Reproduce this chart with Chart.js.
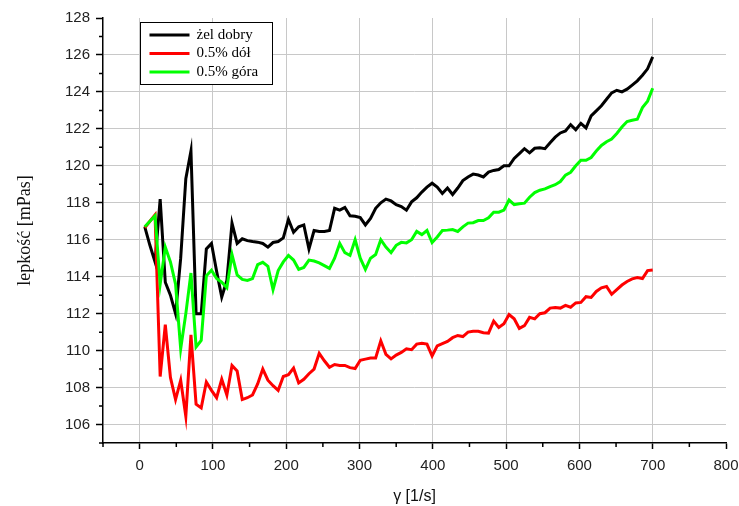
<!DOCTYPE html>
<html>
<head>
<meta charset="utf-8">
<script src="https://cdn.jsdelivr.net/npm/chart.js@4.4.1/dist/chart.umd.min.js"></script>
<style>
  html, body { margin: 0; padding: 0; background: #fff; }
  #wrap { width: 739px; height: 506px; }
</style>
</head>
<body>
<div id="wrap"><canvas id="viscosity" width="739" height="506"></canvas></div>
<script>
// shear rate gamma [1/s]
const shearRates = [7, 14, 21, 28, 35, 42, 49, 56, 63, 70, 77, 84, 91, 98, 105, 112, 119, 126, 133, 140,
  147, 154, 161, 168, 175, 182, 189, 196, 203, 210, 217, 224, 231, 238, 245, 252, 259, 266, 273, 280,
  287, 294, 301, 308, 315, 322, 329, 336, 343, 350, 357, 364, 371, 378, 385, 392, 399, 406, 413, 420,
  427, 434, 441, 448, 455, 462, 469, 476, 483, 490, 497, 504, 511, 518, 525, 532, 539, 546, 553, 560,
  567, 574, 581, 588, 595, 602, 609, 616, 623, 630, 637, 644, 651, 658, 665, 672, 679, 686, 693, 700];

// viscosity [mPas]
const zelDobry = [116.7, 115.7, 114.8, 118.2, 113.7, 113.0, 112.0, 115.0, 119.3, 120.8,
  112.0, 112.0, 115.5, 115.8, 114.3, 112.9, 113.8, 116.9, 115.8, 116.05,
  115.95, 115.9, 115.87, 115.8, 115.6, 115.85, 115.9, 116.1, 117.1, 116.4,
  116.7, 116.8, 115.5, 116.5, 116.45, 116.45, 116.5, 117.7, 117.6, 117.75,
  117.3, 117.27, 117.2, 116.8, 117.15, 117.7, 118.0, 118.2, 118.1, 117.9,
  117.8, 117.6, 118.05, 118.27, 118.58, 118.85, 119.06, 118.85, 118.5, 118.8,
  118.45, 118.8, 119.2, 119.4, 119.55, 119.5, 119.4, 119.66, 119.75, 119.8,
  120.0, 120.0, 120.4, 120.66, 120.93, 120.7, 120.95, 120.98, 120.93, 121.25,
  121.55, 121.78, 121.89, 122.23, 121.95, 122.3, 122.05, 122.7, 122.97, 123.25,
  123.6, 123.95, 124.09, 124.0, 124.15, 124.37, 124.6, 124.9, 125.25, 125.9];

const dol = [116.65, 117.0, 117.35, 108.6, 111.4, 108.55, 107.35, 108.4, 106.45, 110.85,
  107.1, 106.9, 108.3, 107.85, 107.45, 108.45, 107.6, 109.2, 108.9, 107.35,
  107.45, 107.6, 108.2, 109.0, 108.4, 108.1, 107.85, 108.6, 108.7, 109.05,
  108.25, 108.45, 108.75, 109.0, 109.85, 109.45, 109.1, 109.25, 109.2, 109.2,
  109.08, 109.03, 109.48, 109.54, 109.6, 109.6, 110.53, 109.8, 109.55, 109.76,
  109.9, 110.1, 110.05, 110.35, 110.4, 110.35, 109.71, 110.26, 110.38, 110.5,
  110.7, 110.82, 110.76, 111.0, 111.05, 111.05, 110.97, 110.95, 111.6, 111.25,
  111.45, 111.95, 111.72, 111.2, 111.35, 111.8, 111.72, 112.0, 112.05, 112.3,
  112.33, 112.3, 112.45, 112.35, 112.58, 112.61, 112.92, 112.88, 113.2, 113.4,
  113.47, 113.05, 113.3, 113.55, 113.74, 113.88, 113.95, 113.9, 114.33, 114.36];

const gora = [116.7, 117.0, 117.3, 113.6, 115.6, 114.8, 113.6, 110.1, 112.0, 114.2,
  110.2, 110.55, 114.05, 114.35, 113.9, 113.7, 113.4, 115.2, 114.1, 113.85,
  113.8, 113.9, 114.65, 114.78, 114.56, 113.3, 114.33, 114.8, 115.15, 114.9,
  114.4, 114.5, 114.9, 114.85, 114.75, 114.6, 114.45, 115.0, 115.8, 115.3,
  115.15, 116.0, 115.0, 114.4, 115.0, 115.2, 116.0, 115.6, 115.3, 115.7,
  115.86, 115.83, 116.0, 116.45, 116.28, 116.5, 115.85, 116.15, 116.5, 116.52,
  116.55, 116.45, 116.7, 116.9, 116.92, 117.04, 117.04, 117.19, 117.49, 117.49,
  117.6, 118.15, 117.9, 117.95, 117.98, 118.3, 118.55, 118.68, 118.75, 118.88,
  118.98, 119.15, 119.5, 119.65, 120.0, 120.3, 120.3, 120.45, 120.8, 121.1,
  121.3, 121.45, 121.75, 122.1, 122.4, 122.47, 122.52, 123.15, 123.5, 124.2];

const seriesLabels = ["żel dobry", "0.5% dół", "0.5% góra"];
const seriesColors = ["#000000", "#ff0000", "#00ff00"];

const xTickValues = [0, 100, 200, 300, 400, 500, 600, 700, 800];
const xMinorTicks = [-50, 50, 150, 250, 350, 450, 550, 650, 750];
const yTickValues = [106, 108, 110, 112, 114, 116, 118, 120, 122, 124, 126, 128];
const yMinorTicks = [105, 107, 109, 111, 113, 115, 117, 119, 121, 123, 125, 127];

const gridGray = "#c8c8c8";

function toPoints(values) {
    return shearRates.map((x, i) => ({ x: x, y: values[i] }));
}

// small ticks between the labelled ones
const minorTicks = {
    id: "minorTicks",
    afterDraw(chart) {
        const ctx = chart.ctx;
        const x = chart.scales.x;
        const y = chart.scales.y;
        ctx.save();
        ctx.strokeStyle = "#000";
        ctx.lineWidth = 1.5;
        ctx.beginPath();
        for (const v of xMinorTicks) {
            const px = x.getPixelForValue(v);
            ctx.moveTo(px, x.top);
            ctx.lineTo(px, x.top + 4);
        }
        for (const v of yMinorTicks) {
            const py = y.getPixelForValue(v);
            ctx.moveTo(y.right - 4, py);
            ctx.lineTo(y.right, py);
        }
        ctx.stroke();
        ctx.restore();
    }
};

// boxed legend inside the plot, top left
const innerLegend = {
    id: "innerLegend",
    afterDraw(chart) {
        const ctx = chart.ctx;
        const area = chart.chartArea;
        const bx = Math.round(area.left + 37) + 0.5;
        const by = Math.round(area.top + 4) + 0.5;
        ctx.save();
        ctx.fillStyle = "#fff";
        ctx.fillRect(bx, by, 132, 62);
        ctx.strokeStyle = "#000";
        ctx.lineWidth = 1;
        ctx.strokeRect(bx, by, 132, 62);
        ctx.font = "15px 'Liberation Serif', 'Times New Roman', serif";
        ctx.textBaseline = "middle";
        seriesLabels.forEach((label, i) => {
            const ry = by + 12.5 + i * 18.5;
            ctx.strokeStyle = seriesColors[i];
            ctx.lineWidth = 3;
            ctx.beginPath();
            ctx.moveTo(bx + 9, ry);
            ctx.lineTo(bx + 49, ry);
            ctx.stroke();
            ctx.fillStyle = "#000";
            ctx.fillText(label, bx + 56, ry);
        });
        ctx.restore();
    }
};

const ctx = document.getElementById("viscosity");

new Chart(ctx, {
    type: "line",
    data: {
        datasets: [{
            label: seriesLabels[0],
            data: toPoints(zelDobry),
            borderColor: seriesColors[0],
            order: 3,
        }, {
            label: seriesLabels[1],
            data: toPoints(dol),
            borderColor: seriesColors[1],
            order: 2,
        }, {
            label: seriesLabels[2],
            data: toPoints(gora),
            borderColor: seriesColors[2],
            order: 1,
        }],
    },
    options: {
        responsive: false,
        animation: false,
        layout: { padding: { top: 18, right: 13, left: 0, bottom: 0 } },
        elements: {
            point: { radius: 0 },
            line: { borderWidth: 3, tension: 0, fill: false },
        },
        plugins: {
            legend: { display: false },
            tooltip: { enabled: false },
        },
        scales: {
            x: {
                type: "linear",
                min: -50,
                max: 800,
                afterBuildTicks: s => { s.ticks = xTickValues.map(v => ({ value: v })); },
                afterFit: s => { s.height = 63; s.paddingLeft = 0; s.paddingRight = 0; },
                grid: {
                    color: c => (c.tick && c.tick.value === 800) ? "rgba(0,0,0,0)" : gridGray,
                    lineWidth: 1,
                    tickColor: "#000",
                    tickLength: 6,
                    tickWidth: 1.5,
                },
                border: { color: "#000", width: 1.5 },
                ticks: {
                    color: "#222",
                    font: { family: "'Liberation Sans', Arial, sans-serif", size: 15 },
                    padding: 8,
                    maxRotation: 0,
                },
                title: {
                    display: true,
                    text: "γ [1/s]",
                    color: "#111",
                    font: { family: "'Liberation Sans', Arial, sans-serif", size: 16 },
                    padding: { top: 0, bottom: 0 },
                },
            },
            y: {
                type: "linear",
                min: 105,
                max: 128,
                afterBuildTicks: s => { s.ticks = yTickValues.map(v => ({ value: v })); },
                afterFit: s => { s.width = 103; s.paddingTop = 0; s.paddingBottom = 0; },
                grid: {
                    color: c => (c.tick && c.tick.value === 128) ? "rgba(0,0,0,0)" : gridGray,
                    lineWidth: 1,
                    tickColor: "#000",
                    tickLength: 7,
                    tickWidth: 1.5,
                },
                border: { color: "#000", width: 1.5 },
                ticks: {
                    color: "#222",
                    font: { family: "'Liberation Sans', Arial, sans-serif", size: 15 },
                    padding: 6,
                },
                title: {
                    display: true,
                    text: "lepkość [mPas]",
                    color: "#111",
                    font: { family: "'Liberation Serif', 'Times New Roman', serif", size: 18 },
                    padding: { top: 14, bottom: 0 },
                },
            },
        },
    },
    plugins: [minorTicks, innerLegend],
});
</script>
</body>
</html>
